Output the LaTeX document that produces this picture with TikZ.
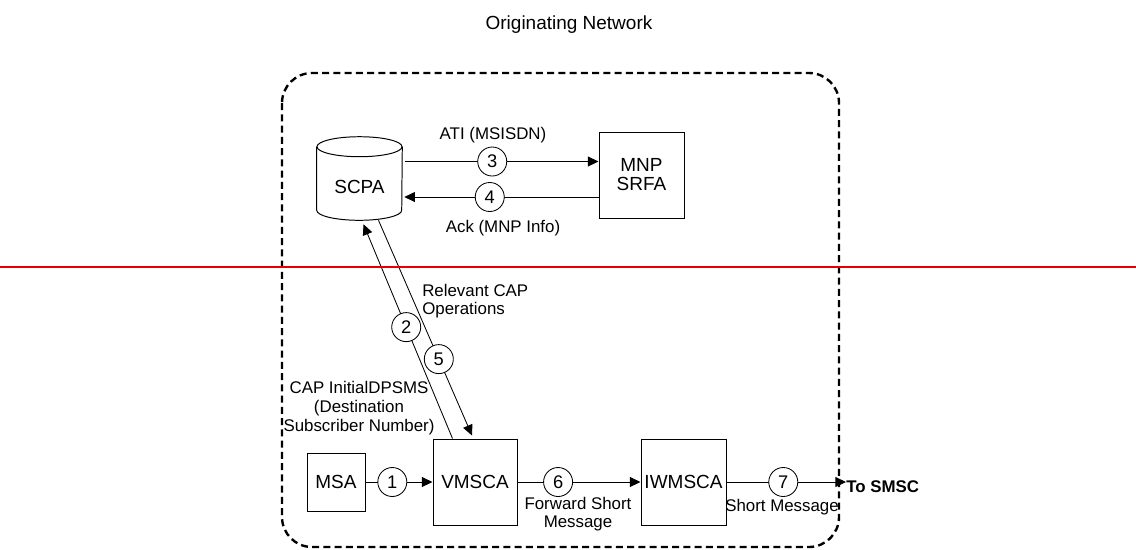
\documentclass[tikz,border=0pt]{standalone}
\usepackage{fontspec}
\setmainfont{Liberation Sans}
\usepackage{tikz}
\usetikzlibrary{shapes.geometric, arrows.meta, positioning, calc}
\definecolor{cFrame}{RGB}{0,0,0}
\definecolor{cCut}{RGB}{230,0,0}
\tikzset{
	blk/.style  ={rectangle, draw=black, line width=0.7pt, minimum width=2.125cm, minimum height=2.15cm, align=center, inner sep=1pt, font=\fontsize{13.5}{13.5}\selectfont},
	dbase/.style={rectangle, minimum width=2.125cm, minimum height=2.075cm, inner sep=0pt},
	can/.style  ={draw=black, line width=0.7pt},
	num/.style  ={circle, draw=black, line width=0.6pt, fill=white, minimum size=0.725cm, inner sep=0pt, font=\fontsize{13}{13}\selectfont},
	lbl/.style  ={align=center, inner sep=0pt, font=\fontsize{12}{13.3}\selectfont},
	sig/.style  ={-{Triangle[length=7.5pt, width=7pt]}, line width=0.6pt},
	frame/.style={draw=cFrame, line width=1.7pt, dash pattern=on 5pt off 3pt, rounded corners=0.75cm},
}
\begin{document}
\begin{tikzpicture}[x=0.025cm, y=-0.025cm]
	\useasboundingbox (0,0) rectangle (1136,549);
	\node[lbl, font=\fontsize{13.5}{14}\selectfont] (title) at (569,25) {Originating Network};
	\draw[frame] (282,73) rectangle (839,547);
	% network elements
	\node[dbase, label={[font=\fontsize{13.5}{13.5}\selectfont, yshift=-0.2cm]center:SCPA}] (scpa) at (359.5,178.5) {};
	\draw[can] ($(scpa.north)+(0,10)$) ellipse [x radius=42.5, y radius=10];
	\draw[can] ($(scpa.north west)+(0,10)$) -- ($(scpa.south west)+(0,-10)$)
		arc [start angle=180, end angle=0, x radius=42.5, y radius=10] -- ($(scpa.north east)+(0,10)$);
	\node[blk] (mnp) at (641.5,175) {MNP\\SRFA};
	\node[blk, minimum width=1.45cm, minimum height=1.45cm] (msa) at (336,482) {MSA};
	\node[blk, minimum width=2.1cm] (vmsca) at (475,482) {VMSCA};
	\node[blk] (iwmsca) at (683.5,482) {IWMSCA};
	\node[lbl, right, font=\fontsize{12}{13}\bfseries] (smsc) at (846,487) {To SMSC};
	% messages
	\draw[sig] ($(scpa.east)+(3,-17)$) coordinate (a3) -- (a3 -| mnp.west) node[num, pos=.45] {3};
	\draw[sig] ($(mnp.west)+(0,22)$) coordinate (a4) -- ($(a4 -| scpa.east)+(2,0)$) node[num, pos=.56] {4};
	\draw[sig] ($(vmsca.north west)+(20,0)$) -- ($(scpa.south)+(4,4)$) node[num, pos=.52] {2};
	\draw[sig] ($(scpa.south)+(19,0)$) -- ($(vmsca.north)+(-3,-3)$) node[num, pos=.645] {5};
	\draw[sig] (msa) -- (vmsca) node[num, pos=.4] {1};
	\draw[sig] (vmsca) -- (iwmsca) node[num, pos=.33] {6};
	\draw[sig] (iwmsca.east) -- (iwmsca.east -| smsc.west) node[num, pos=.475] {7};
	\node[lbl] (ati) at (493,135) {ATI (MSISDN)};
	\node[lbl] (ack) at (503,228) {Ack (MNP Info)};
	\node[lbl, anchor=west, align=left] (rel) at (422,301) {Relevant CAP\\Operations};
	\node[lbl] (idp) at (359,408) {CAP InitialDPSMS\\(Destination\\Subscriber Number)};
	\node[lbl] (fwd) at (578,514) {Forward Short\\Message};
	\node[lbl] (sm) at (782,507) {Short Message};
	\draw[cCut, line width=1.1pt] (0,267) -- (1136,267);
\end{tikzpicture}
\end{document}
